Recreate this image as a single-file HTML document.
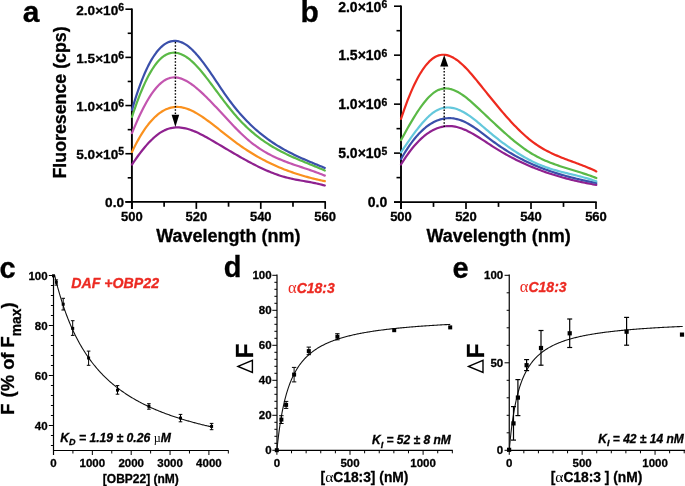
<!DOCTYPE html>
<html><head><meta charset="utf-8"><style>
html,body{margin:0;padding:0;background:#fff;}
svg{display:block;font-family:"Liberation Sans",sans-serif;will-change:transform;}
</style></head><body>
<svg width="685" height="486" viewBox="0 0 685 486">
<rect width="685" height="486" fill="#fff"/>
<line x1="131.9" y1="8.5" x2="131.9" y2="208.9" stroke="#000" stroke-width="1.9"/>
<line x1="125.4" y1="201.9" x2="131.9" y2="201.9" stroke="#000" stroke-width="1.6"/>
<line x1="125.4" y1="153.72" x2="131.9" y2="153.72" stroke="#000" stroke-width="1.6"/>
<line x1="125.4" y1="105.55" x2="131.9" y2="105.55" stroke="#000" stroke-width="1.6"/>
<line x1="125.4" y1="57.38" x2="131.9" y2="57.38" stroke="#000" stroke-width="1.6"/>
<line x1="125.4" y1="9.2" x2="131.9" y2="9.2" stroke="#000" stroke-width="1.6"/>
<line x1="127.7" y1="177.81" x2="131.9" y2="177.81" stroke="#000" stroke-width="1.6"/>
<line x1="127.7" y1="129.64" x2="131.9" y2="129.64" stroke="#000" stroke-width="1.6"/>
<line x1="127.7" y1="81.46" x2="131.9" y2="81.46" stroke="#000" stroke-width="1.6"/>
<line x1="127.7" y1="33.29" x2="131.9" y2="33.29" stroke="#000" stroke-width="1.6"/>
<line x1="125.4" y1="201.9" x2="325.9" y2="201.9" stroke="#000" stroke-width="1.9"/>
<line x1="131.9" y1="201.9" x2="131.9" y2="208.9" stroke="#000" stroke-width="1.7"/>
<line x1="196.33" y1="201.9" x2="196.33" y2="208.9" stroke="#000" stroke-width="1.7"/>
<line x1="260.77" y1="201.9" x2="260.77" y2="208.9" stroke="#000" stroke-width="1.7"/>
<line x1="325.2" y1="201.9" x2="325.2" y2="208.9" stroke="#000" stroke-width="1.7"/>
<line x1="164.12" y1="201.9" x2="164.12" y2="206.7" stroke="#000" stroke-width="1.7"/>
<line x1="228.55" y1="201.9" x2="228.55" y2="206.7" stroke="#000" stroke-width="1.7"/>
<line x1="292.98" y1="201.9" x2="292.98" y2="206.7" stroke="#000" stroke-width="1.7"/>
<text x="124" y="207.4" font-size="13.6" text-anchor="end" font-weight="bold" font-style="normal" fill="#000" stroke="#000" stroke-width="0.3" >0.0</text>
<text x="124" y="159.22" font-size="13.6" text-anchor="end" font-weight="bold" font-style="normal" fill="#000" stroke="#000" stroke-width="0.3" >5.0×10<tspan dy="-3.9" font-size="10.4">5</tspan></text>
<text x="124" y="111.05" font-size="13.6" text-anchor="end" font-weight="bold" font-style="normal" fill="#000" stroke="#000" stroke-width="0.3" >1.0×10<tspan dy="-3.9" font-size="10.4">6</tspan></text>
<text x="124" y="62.88" font-size="13.6" text-anchor="end" font-weight="bold" font-style="normal" fill="#000" stroke="#000" stroke-width="0.3" >1.5×10<tspan dy="-3.9" font-size="10.4">6</tspan></text>
<text x="124" y="14.7" font-size="13.6" text-anchor="end" font-weight="bold" font-style="normal" fill="#000" stroke="#000" stroke-width="0.3" >2.0×10<tspan dy="-3.9" font-size="10.4">6</tspan></text>
<text x="131.9" y="220.8" font-size="13" text-anchor="middle" font-weight="bold" font-style="normal" fill="#000" stroke="#000" stroke-width="0.3" >500</text>
<text x="196.33" y="220.8" font-size="13" text-anchor="middle" font-weight="bold" font-style="normal" fill="#000" stroke="#000" stroke-width="0.3" >520</text>
<text x="260.77" y="220.8" font-size="13" text-anchor="middle" font-weight="bold" font-style="normal" fill="#000" stroke="#000" stroke-width="0.3" >540</text>
<text x="325.2" y="220.8" font-size="13" text-anchor="middle" font-weight="bold" font-style="normal" fill="#000" stroke="#000" stroke-width="0.3" >560</text>
<text x="228.4" y="242" font-size="18" text-anchor="middle" font-weight="bold" font-style="normal" fill="#000" stroke="#000" stroke-width="0.3" >Wavelength (nm)</text>
<text transform="translate(65.8,102.4) rotate(-90)" x="0" y="0" font-size="17.8" text-anchor="middle" font-weight="bold" font-style="normal" fill="#000" stroke="#000" stroke-width="0.3" xml:space="preserve">Fluoresence (cps)</text>
<text x="31.2" y="22.2" font-size="30" text-anchor="middle" font-weight="bold" font-style="normal" fill="#000" stroke="#000" stroke-width="0.3" >a</text>
<path d="M132.00,164.51 L133.62,162.12 L135.24,159.78 L136.86,157.49 L138.48,155.27 L140.10,153.10 L141.72,151.00 L143.34,148.97 L144.96,147.01 L146.58,145.13 L148.20,143.33 L149.82,141.61 L151.44,139.97 L153.06,138.42 L154.68,136.97 L156.30,135.61 L157.92,134.35 L159.54,133.19 L161.16,132.14 L162.78,131.20 L164.40,130.37 L166.02,129.65 L167.64,129.04 L169.26,128.53 L170.88,128.12 L172.50,127.81 L174.12,127.60 L175.74,127.47 L177.36,127.43 L178.98,127.47 L180.61,127.59 L182.23,127.79 L183.85,128.06 L185.47,128.39 L187.09,128.80 L188.71,129.26 L190.33,129.78 L191.95,130.35 L193.57,130.97 L195.19,131.64 L196.81,132.35 L198.43,133.10 L200.05,133.89 L201.67,134.71 L203.29,135.56 L204.91,136.43 L206.53,137.32 L208.15,138.24 L209.77,139.16 L211.39,140.10 L213.01,141.04 L214.63,141.99 L216.25,142.94 L217.87,143.89 L219.49,144.85 L221.11,145.81 L222.73,146.77 L224.35,147.73 L225.97,148.68 L227.59,149.64 L229.21,150.60 L230.83,151.55 L232.45,152.50 L234.07,153.45 L235.69,154.39 L237.31,155.32 L238.93,156.25 L240.55,157.18 L242.17,158.09 L243.79,159.00 L245.41,159.90 L247.03,160.78 L248.65,161.66 L250.27,162.53 L251.89,163.38 L253.51,164.23 L255.13,165.06 L256.75,165.87 L258.37,166.67 L259.99,167.46 L261.61,168.23 L263.23,168.98 L264.85,169.71 L266.47,170.43 L268.09,171.13 L269.71,171.81 L271.33,172.46 L272.95,173.10 L274.57,173.72 L276.19,174.31 L277.82,174.88 L279.44,175.42 L281.06,175.94 L282.68,176.44 L284.30,176.91 L285.92,177.35 L287.54,177.77 L289.16,178.16 L290.78,178.54 L292.40,178.89 L294.02,179.23 L295.64,179.55 L297.26,179.86 L298.88,180.16 L300.50,180.46 L302.12,180.74 L303.74,181.03 L305.36,181.32 L306.98,181.60 L308.60,181.89 L310.22,182.19 L311.84,182.50 L313.46,182.82 L315.08,183.15 L316.70,183.49 L318.32,183.86 L319.94,184.24 L321.56,184.65 L323.18,185.08 L324.80,185.53" fill="none" stroke="#8f218f" stroke-width="2.2" stroke-linejoin="round" stroke-linecap="round"/>
<path d="M132.00,151.96 L133.62,148.60 L135.24,145.37 L136.86,142.29 L138.48,139.35 L140.10,136.55 L141.72,133.88 L143.34,131.35 L144.96,128.96 L146.58,126.69 L148.20,124.56 L149.82,122.56 L151.44,120.68 L153.06,118.94 L154.68,117.31 L156.30,115.82 L157.92,114.44 L159.54,113.18 L161.16,112.05 L162.78,111.03 L164.40,110.13 L166.02,109.34 L167.64,108.67 L169.26,108.11 L170.88,107.66 L172.50,107.32 L174.12,107.08 L175.74,106.95 L177.36,106.93 L178.98,107.01 L180.61,107.19 L182.23,107.45 L183.85,107.81 L185.47,108.25 L187.09,108.78 L188.71,109.38 L190.33,110.05 L191.95,110.79 L193.57,111.59 L195.19,112.45 L196.81,113.37 L198.43,114.34 L200.05,115.36 L201.67,116.42 L203.29,117.51 L204.91,118.64 L206.53,119.80 L208.15,120.99 L209.77,122.20 L211.39,123.43 L213.01,124.67 L214.63,125.92 L216.25,127.19 L217.87,128.46 L219.49,129.74 L221.11,131.03 L222.73,132.32 L224.35,133.60 L225.97,134.88 L227.59,136.16 L229.21,137.42 L230.83,138.68 L232.45,139.92 L234.07,141.15 L235.69,142.36 L237.31,143.55 L238.93,144.72 L240.55,145.87 L242.17,146.99 L243.79,148.10 L245.41,149.18 L247.03,150.24 L248.65,151.28 L250.27,152.30 L251.89,153.30 L253.51,154.28 L255.13,155.24 L256.75,156.18 L258.37,157.10 L259.99,158.00 L261.61,158.88 L263.23,159.75 L264.85,160.59 L266.47,161.42 L268.09,162.23 L269.71,163.02 L271.33,163.80 L272.95,164.56 L274.57,165.30 L276.19,166.02 L277.82,166.73 L279.44,167.42 L281.06,168.10 L282.68,168.76 L284.30,169.40 L285.92,170.03 L287.54,170.64 L289.16,171.24 L290.78,171.83 L292.40,172.40 L294.02,172.95 L295.64,173.50 L297.26,174.03 L298.88,174.54 L300.50,175.04 L302.12,175.53 L303.74,176.01 L305.36,176.47 L306.98,176.93 L308.60,177.37 L310.22,177.80 L311.84,178.21 L313.46,178.62 L315.08,179.01 L316.70,179.40 L318.32,179.77 L319.94,180.13 L321.56,180.49 L323.18,180.83 L324.80,181.16" fill="none" stroke="#fa911e" stroke-width="2.2" stroke-linejoin="round" stroke-linecap="round"/>
<path d="M132.00,133.14 L133.62,129.17 L135.24,125.32 L136.86,121.59 L138.48,117.99 L140.10,114.51 L141.72,111.17 L143.34,107.96 L144.96,104.90 L146.58,101.98 L148.20,99.21 L149.82,96.59 L151.44,94.14 L153.06,91.84 L154.68,89.71 L156.30,87.74 L157.92,85.94 L159.54,84.31 L161.16,82.85 L162.78,81.57 L164.40,80.45 L166.02,79.52 L167.64,78.76 L169.26,78.17 L170.88,77.75 L172.50,77.50 L174.12,77.40 L175.74,77.44 L177.36,77.63 L178.98,77.95 L180.61,78.40 L182.23,78.97 L183.85,79.65 L185.47,80.44 L187.09,81.33 L188.71,82.31 L190.33,83.37 L191.95,84.51 L193.57,85.73 L195.19,87.01 L196.81,88.35 L198.43,89.74 L200.05,91.18 L201.67,92.65 L203.29,94.17 L204.91,95.72 L206.53,97.31 L208.15,98.93 L209.77,100.57 L211.39,102.24 L213.01,103.93 L214.63,105.64 L216.25,107.36 L217.87,109.10 L219.49,110.84 L221.11,112.60 L222.73,114.35 L224.35,116.10 L225.97,117.86 L227.59,119.60 L229.21,121.34 L230.83,123.06 L232.45,124.77 L234.07,126.47 L235.69,128.14 L237.31,129.78 L238.93,131.40 L240.55,133.00 L242.17,134.55 L243.79,136.07 L245.41,137.56 L247.03,139.00 L248.65,140.39 L250.27,141.74 L251.89,143.04 L253.51,144.29 L255.13,145.49 L256.75,146.65 L258.37,147.77 L259.99,148.85 L261.61,149.89 L263.23,150.89 L264.85,151.85 L266.47,152.78 L268.09,153.67 L269.71,154.54 L271.33,155.37 L272.95,156.17 L274.57,156.95 L276.19,157.70 L277.82,158.42 L279.44,159.13 L281.06,159.81 L282.68,160.47 L284.30,161.11 L285.92,161.74 L287.54,162.35 L289.16,162.94 L290.78,163.53 L292.40,164.10 L294.02,164.67 L295.64,165.22 L297.26,165.77 L298.88,166.32 L300.50,166.86 L302.12,167.40 L303.74,167.94 L305.36,168.48 L306.98,169.03 L308.60,169.57 L310.22,170.13 L311.84,170.69 L313.46,171.26 L315.08,171.84 L316.70,172.43 L318.32,173.04 L319.94,173.66 L321.56,174.30 L323.18,174.96 L324.80,175.63" fill="none" stroke="#c355af" stroke-width="2.2" stroke-linejoin="round" stroke-linecap="round"/>
<path d="M132.00,116.95 L133.62,112.02 L135.24,107.27 L136.86,102.72 L138.48,98.36 L140.10,94.20 L141.72,90.23 L143.34,86.46 L144.96,82.89 L146.58,79.52 L148.20,76.34 L149.82,73.37 L151.44,70.60 L153.06,68.02 L154.68,65.65 L156.30,63.49 L157.92,61.52 L159.54,59.76 L161.16,58.21 L162.78,56.86 L164.40,55.71 L166.02,54.75 L167.64,53.99 L169.26,53.40 L170.88,52.99 L172.50,52.76 L174.12,52.69 L175.74,52.79 L177.36,53.03 L178.98,53.43 L180.61,53.98 L182.23,54.66 L183.85,55.48 L185.47,56.42 L187.09,57.49 L188.71,58.68 L190.33,59.97 L191.95,61.38 L193.57,62.88 L195.19,64.48 L196.81,66.17 L198.43,67.95 L200.05,69.80 L201.67,71.72 L203.29,73.71 L204.91,75.74 L206.53,77.82 L208.15,79.94 L209.77,82.08 L211.39,84.25 L213.01,86.42 L214.63,88.60 L216.25,90.78 L217.87,92.95 L219.49,95.12 L221.11,97.28 L222.73,99.43 L224.35,101.55 L225.97,103.65 L227.59,105.73 L229.21,107.78 L230.83,109.79 L232.45,111.77 L234.07,113.70 L235.69,115.59 L237.31,117.44 L238.93,119.23 L240.55,120.97 L242.17,122.66 L243.79,124.30 L245.41,125.89 L247.03,127.44 L248.65,128.95 L250.27,130.41 L251.89,131.83 L253.51,133.21 L255.13,134.55 L256.75,135.85 L258.37,137.11 L259.99,138.33 L261.61,139.52 L263.23,140.68 L264.85,141.80 L266.47,142.89 L268.09,143.95 L269.71,144.97 L271.33,145.98 L272.95,146.95 L274.57,147.90 L276.19,148.82 L277.82,149.71 L279.44,150.59 L281.06,151.44 L282.68,152.28 L284.30,153.09 L285.92,153.88 L287.54,154.66 L289.16,155.42 L290.78,156.17 L292.40,156.91 L294.02,157.63 L295.64,158.34 L297.26,159.04 L298.88,159.73 L300.50,160.41 L302.12,161.09 L303.74,161.76 L305.36,162.42 L306.98,163.09 L308.60,163.75 L310.22,164.41 L311.84,165.07 L313.46,165.73 L315.08,166.39 L316.70,167.06 L318.32,167.73 L319.94,168.41 L321.56,169.10 L323.18,169.79 L324.80,170.49" fill="none" stroke="#5ab946" stroke-width="2.2" stroke-linejoin="round" stroke-linecap="round"/>
<path d="M132.00,109.86 L133.62,104.35 L135.24,99.09 L136.86,94.09 L138.48,89.34 L140.10,84.83 L141.72,80.57 L143.34,76.55 L144.96,72.76 L146.58,69.21 L148.20,65.88 L149.82,62.78 L151.44,59.90 L153.06,57.24 L154.68,54.80 L156.30,52.56 L157.92,50.54 L159.54,48.72 L161.16,47.09 L162.78,45.67 L164.40,44.44 L166.02,43.39 L167.64,42.54 L169.26,41.86 L170.88,41.37 L172.50,41.05 L174.12,40.90 L175.74,40.92 L177.36,41.10 L178.98,41.45 L180.61,41.95 L182.23,42.61 L183.85,43.41 L185.47,44.37 L187.09,45.46 L188.71,46.70 L190.33,48.06 L191.95,49.54 L193.57,51.14 L195.19,52.84 L196.81,54.64 L198.43,56.53 L200.05,58.51 L201.67,60.57 L203.29,62.69 L204.91,64.88 L206.53,67.12 L208.15,69.41 L209.77,71.74 L211.39,74.10 L213.01,76.48 L214.63,78.89 L216.25,81.30 L217.87,83.72 L219.49,86.13 L221.11,88.53 L222.73,90.91 L224.35,93.26 L225.97,95.59 L227.59,97.86 L229.21,100.09 L230.83,102.27 L232.45,104.39 L234.07,106.46 L235.69,108.48 L237.31,110.44 L238.93,112.36 L240.55,114.22 L242.17,116.04 L243.79,117.81 L245.41,119.53 L247.03,121.21 L248.65,122.85 L250.27,124.44 L251.89,125.99 L253.51,127.49 L255.13,128.96 L256.75,130.39 L258.37,131.78 L259.99,133.13 L261.61,134.45 L263.23,135.73 L264.85,136.97 L266.47,138.18 L268.09,139.36 L269.71,140.51 L271.33,141.63 L272.95,142.72 L274.57,143.78 L276.19,144.81 L277.82,145.82 L279.44,146.80 L281.06,147.75 L282.68,148.69 L284.30,149.60 L285.92,150.48 L287.54,151.35 L289.16,152.20 L290.78,153.03 L292.40,153.84 L294.02,154.64 L295.64,155.42 L297.26,156.18 L298.88,156.93 L300.50,157.67 L302.12,158.40 L303.74,159.12 L305.36,159.82 L306.98,160.52 L308.60,161.21 L310.22,161.90 L311.84,162.57 L313.46,163.25 L315.08,163.92 L316.70,164.58 L318.32,165.25 L319.94,165.91 L321.56,166.58 L323.18,167.24 L324.80,167.91" fill="none" stroke="#3a4faa" stroke-width="2.2" stroke-linejoin="round" stroke-linecap="round"/>
<line x1="175.4" y1="42" x2="175.4" y2="116" stroke="#000" stroke-width="1.4" stroke-dasharray="1.6 1.6"/>
<path d="M171.6,114.8 L179.2,114.8 L175.4,127 Z" fill="#000"/>
<line x1="401" y1="5.5" x2="401" y2="209.1" stroke="#000" stroke-width="1.9"/>
<line x1="394" y1="202.1" x2="401" y2="202.1" stroke="#000" stroke-width="1.6"/>
<line x1="394" y1="153.12" x2="401" y2="153.12" stroke="#000" stroke-width="1.6"/>
<line x1="394" y1="104.15" x2="401" y2="104.15" stroke="#000" stroke-width="1.6"/>
<line x1="394" y1="55.17" x2="401" y2="55.17" stroke="#000" stroke-width="1.6"/>
<line x1="394" y1="6.2" x2="401" y2="6.2" stroke="#000" stroke-width="1.6"/>
<line x1="396.5" y1="177.61" x2="401" y2="177.61" stroke="#000" stroke-width="1.6"/>
<line x1="396.5" y1="128.64" x2="401" y2="128.64" stroke="#000" stroke-width="1.6"/>
<line x1="396.5" y1="79.66" x2="401" y2="79.66" stroke="#000" stroke-width="1.6"/>
<line x1="396.5" y1="30.69" x2="401" y2="30.69" stroke="#000" stroke-width="1.6"/>
<line x1="394" y1="202.1" x2="596.7" y2="202.1" stroke="#000" stroke-width="1.9"/>
<line x1="401" y1="202.1" x2="401" y2="209.1" stroke="#000" stroke-width="1.7"/>
<line x1="466" y1="202.1" x2="466" y2="209.1" stroke="#000" stroke-width="1.7"/>
<line x1="531" y1="202.1" x2="531" y2="209.1" stroke="#000" stroke-width="1.7"/>
<line x1="596" y1="202.1" x2="596" y2="209.1" stroke="#000" stroke-width="1.7"/>
<line x1="433.5" y1="202.1" x2="433.5" y2="206.9" stroke="#000" stroke-width="1.7"/>
<line x1="498.5" y1="202.1" x2="498.5" y2="206.9" stroke="#000" stroke-width="1.7"/>
<line x1="563.5" y1="202.1" x2="563.5" y2="206.9" stroke="#000" stroke-width="1.7"/>
<text x="387.2" y="207.4" font-size="14" text-anchor="end" font-weight="bold" font-style="normal" fill="#000" stroke="#000" stroke-width="0.3" >0.0</text>
<text x="387.2" y="158.43" font-size="14" text-anchor="end" font-weight="bold" font-style="normal" fill="#000" stroke="#000" stroke-width="0.3" >5.0×10<tspan dy="-3.9" font-size="10.4">5</tspan></text>
<text x="387.2" y="109.45" font-size="14" text-anchor="end" font-weight="bold" font-style="normal" fill="#000" stroke="#000" stroke-width="0.3" >1.0×10<tspan dy="-3.9" font-size="10.4">6</tspan></text>
<text x="387.2" y="60.47" font-size="14" text-anchor="end" font-weight="bold" font-style="normal" fill="#000" stroke="#000" stroke-width="0.3" >1.5×10<tspan dy="-3.9" font-size="10.4">6</tspan></text>
<text x="387.2" y="11.5" font-size="14" text-anchor="end" font-weight="bold" font-style="normal" fill="#000" stroke="#000" stroke-width="0.3" >2.0×10<tspan dy="-3.9" font-size="10.4">6</tspan></text>
<text x="401" y="221.4" font-size="13" text-anchor="middle" font-weight="bold" font-style="normal" fill="#000" stroke="#000" stroke-width="0.3" >500</text>
<text x="466" y="221.4" font-size="13" text-anchor="middle" font-weight="bold" font-style="normal" fill="#000" stroke="#000" stroke-width="0.3" >520</text>
<text x="531" y="221.4" font-size="13" text-anchor="middle" font-weight="bold" font-style="normal" fill="#000" stroke="#000" stroke-width="0.3" >540</text>
<text x="596" y="221.4" font-size="13" text-anchor="middle" font-weight="bold" font-style="normal" fill="#000" stroke="#000" stroke-width="0.3" >560</text>
<text x="498.6" y="242" font-size="18" text-anchor="middle" font-weight="bold" font-style="normal" fill="#000" stroke="#000" stroke-width="0.3" >Wavelength (nm)</text>
<text x="309.6" y="22.2" font-size="30" text-anchor="middle" font-weight="bold" font-style="normal" fill="#000" stroke="#000" stroke-width="0.3" >b</text>
<path d="M401.00,164.52 L402.64,161.87 L404.28,159.32 L405.92,156.87 L407.56,154.52 L409.21,152.26 L410.85,150.10 L412.49,148.03 L414.13,146.06 L415.77,144.19 L417.41,142.41 L419.05,140.72 L420.69,139.13 L422.34,137.63 L423.98,136.23 L425.62,134.92 L427.26,133.70 L428.90,132.57 L430.54,131.53 L432.18,130.59 L433.82,129.73 L435.46,128.97 L437.11,128.30 L438.75,127.71 L440.39,127.21 L442.03,126.81 L443.67,126.49 L445.31,126.26 L446.95,126.11 L448.59,126.06 L450.24,126.08 L451.88,126.20 L453.52,126.40 L455.16,126.68 L456.80,127.04 L458.44,127.47 L460.08,127.98 L461.72,128.55 L463.36,129.18 L465.01,129.87 L466.65,130.61 L468.29,131.40 L469.93,132.24 L471.57,133.12 L473.21,134.04 L474.85,134.99 L476.49,135.97 L478.14,136.98 L479.78,138.01 L481.42,139.06 L483.06,140.12 L484.70,141.19 L486.34,142.27 L487.98,143.35 L489.62,144.43 L491.26,145.50 L492.91,146.56 L494.55,147.61 L496.19,148.64 L497.83,149.66 L499.47,150.65 L501.11,151.63 L502.75,152.59 L504.39,153.54 L506.04,154.46 L507.68,155.37 L509.32,156.27 L510.96,157.14 L512.60,158.00 L514.24,158.85 L515.88,159.68 L517.52,160.49 L519.16,161.29 L520.81,162.07 L522.45,162.84 L524.09,163.59 L525.73,164.33 L527.37,165.05 L529.01,165.76 L530.65,166.46 L532.29,167.14 L533.94,167.81 L535.58,168.46 L537.22,169.10 L538.86,169.73 L540.50,170.34 L542.14,170.94 L543.78,171.53 L545.42,172.11 L547.06,172.67 L548.71,173.23 L550.35,173.77 L551.99,174.30 L553.63,174.81 L555.27,175.32 L556.91,175.81 L558.55,176.30 L560.19,176.77 L561.84,177.24 L563.48,177.69 L565.12,178.13 L566.76,178.57 L568.40,178.99 L570.04,179.40 L571.68,179.81 L573.32,180.20 L574.96,180.59 L576.61,180.97 L578.25,181.34 L579.89,181.70 L581.53,182.05 L583.17,182.39 L584.81,182.73 L586.45,183.06 L588.09,183.38 L589.74,183.70 L591.38,184.01 L593.02,184.31 L594.66,184.60 L596.30,184.89" fill="none" stroke="#8f218f" stroke-width="2.2" stroke-linejoin="round" stroke-linecap="round"/>
<path d="M401.00,159.04 L402.64,156.18 L404.28,153.44 L405.92,150.81 L407.56,148.28 L409.21,145.87 L410.85,143.56 L412.49,141.36 L414.13,139.26 L415.77,137.27 L417.41,135.38 L419.05,133.60 L420.69,131.92 L422.34,130.34 L423.98,128.86 L425.62,127.48 L427.26,126.20 L428.90,125.01 L430.54,123.93 L432.18,122.94 L433.82,122.04 L435.46,121.25 L437.11,120.54 L438.75,119.93 L440.39,119.41 L442.03,118.98 L443.67,118.64 L445.31,118.39 L446.95,118.23 L448.59,118.16 L450.24,118.17 L451.88,118.27 L453.52,118.46 L455.16,118.73 L456.80,119.08 L458.44,119.52 L460.08,120.04 L461.72,120.63 L463.36,121.31 L465.01,122.07 L466.65,122.89 L468.29,123.78 L469.93,124.72 L471.57,125.73 L473.21,126.78 L474.85,127.87 L476.49,129.00 L478.14,130.16 L479.78,131.36 L481.42,132.57 L483.06,133.81 L484.70,135.05 L486.34,136.30 L487.98,137.56 L489.62,138.81 L491.26,140.05 L492.91,141.28 L494.55,142.49 L496.19,143.68 L497.83,144.84 L499.47,145.98 L501.11,147.09 L502.75,148.18 L504.39,149.25 L506.04,150.29 L507.68,151.32 L509.32,152.32 L510.96,153.30 L512.60,154.26 L514.24,155.19 L515.88,156.11 L517.52,157.01 L519.16,157.88 L520.81,158.74 L522.45,159.58 L524.09,160.40 L525.73,161.20 L527.37,161.98 L529.01,162.74 L530.65,163.49 L532.29,164.22 L533.94,164.93 L535.58,165.63 L537.22,166.31 L538.86,166.98 L540.50,167.63 L542.14,168.26 L543.78,168.88 L545.42,169.49 L547.06,170.08 L548.71,170.66 L550.35,171.22 L551.99,171.77 L553.63,172.31 L555.27,172.84 L556.91,173.35 L558.55,173.86 L560.19,174.35 L561.84,174.83 L563.48,175.30 L565.12,175.76 L566.76,176.21 L568.40,176.65 L570.04,177.08 L571.68,177.51 L573.32,177.92 L574.96,178.33 L576.61,178.72 L578.25,179.12 L579.89,179.50 L581.53,179.88 L583.17,180.25 L584.81,180.61 L586.45,180.97 L588.09,181.32 L589.74,181.67 L591.38,182.02 L593.02,182.36 L594.66,182.69 L596.30,183.02" fill="none" stroke="#3a4faa" stroke-width="2.2" stroke-linejoin="round" stroke-linecap="round"/>
<path d="M401.00,152.31 L402.64,149.89 L404.28,147.48 L405.92,145.07 L407.56,142.68 L409.21,140.31 L410.85,137.98 L412.49,135.67 L414.13,133.42 L415.77,131.21 L417.41,129.06 L419.05,126.98 L420.69,124.96 L422.34,123.02 L423.98,121.17 L425.62,119.41 L427.26,117.75 L428.90,116.19 L430.54,114.74 L432.18,113.41 L433.82,112.21 L435.46,111.14 L437.11,110.21 L438.75,109.42 L440.39,108.77 L442.03,108.26 L443.67,107.88 L445.31,107.63 L446.95,107.50 L448.59,107.49 L450.24,107.60 L451.88,107.81 L453.52,108.13 L455.16,108.56 L456.80,109.07 L458.44,109.69 L460.08,110.38 L461.72,111.17 L463.36,112.03 L465.01,112.97 L466.65,113.98 L468.29,115.05 L469.93,116.19 L471.57,117.38 L473.21,118.62 L474.85,119.90 L476.49,121.22 L478.14,122.57 L479.78,123.94 L481.42,125.33 L483.06,126.74 L484.70,128.14 L486.34,129.55 L487.98,130.94 L489.62,132.32 L491.26,133.69 L492.91,135.04 L494.55,136.37 L496.19,137.69 L497.83,138.98 L499.47,140.26 L501.11,141.52 L502.75,142.76 L504.39,143.98 L506.04,145.18 L507.68,146.36 L509.32,147.52 L510.96,148.66 L512.60,149.78 L514.24,150.88 L515.88,151.95 L517.52,153.00 L519.16,154.03 L520.81,155.03 L522.45,156.01 L524.09,156.97 L525.73,157.90 L527.37,158.80 L529.01,159.68 L530.65,160.54 L532.29,161.37 L533.94,162.17 L535.58,162.94 L537.22,163.69 L538.86,164.41 L540.50,165.10 L542.14,165.77 L543.78,166.40 L545.42,167.01 L547.06,167.59 L548.71,168.15 L550.35,168.68 L551.99,169.20 L553.63,169.69 L555.27,170.17 L556.91,170.63 L558.55,171.08 L560.19,171.51 L561.84,171.94 L563.48,172.36 L565.12,172.76 L566.76,173.17 L568.40,173.56 L570.04,173.96 L571.68,174.35 L573.32,174.75 L574.96,175.15 L576.61,175.55 L578.25,175.96 L579.89,176.38 L581.53,176.80 L583.17,177.24 L584.81,177.69 L586.45,178.15 L588.09,178.63 L589.74,179.13 L591.38,179.64 L593.02,180.18 L594.66,180.74 L596.30,181.32" fill="none" stroke="#64c8dc" stroke-width="2.2" stroke-linejoin="round" stroke-linecap="round"/>
<path d="M401.00,140.13 L402.64,137.13 L404.28,134.16 L405.92,131.20 L407.56,128.29 L409.21,125.41 L410.85,122.59 L412.49,119.82 L414.13,117.12 L415.77,114.49 L417.41,111.94 L419.05,109.49 L420.69,107.13 L422.34,104.87 L423.98,102.73 L425.62,100.71 L427.26,98.82 L428.90,97.07 L430.54,95.46 L432.18,94.00 L433.82,92.70 L435.46,91.57 L437.11,90.62 L438.75,89.85 L440.39,89.25 L442.03,88.83 L443.67,88.56 L445.31,88.46 L446.95,88.49 L448.59,88.68 L450.24,88.99 L451.88,89.43 L453.52,89.99 L455.16,90.67 L456.80,91.45 L458.44,92.33 L460.08,93.31 L461.72,94.37 L463.36,95.50 L465.01,96.71 L466.65,97.99 L468.29,99.32 L469.93,100.70 L471.57,102.12 L473.21,103.59 L474.85,105.08 L476.49,106.59 L478.14,108.12 L479.78,109.66 L481.42,111.20 L483.06,112.75 L484.70,114.29 L486.34,115.84 L487.98,117.39 L489.62,118.94 L491.26,120.48 L492.91,122.02 L494.55,123.55 L496.19,125.08 L497.83,126.60 L499.47,128.11 L501.11,129.60 L502.75,131.09 L504.39,132.56 L506.04,134.02 L507.68,135.46 L509.32,136.89 L510.96,138.29 L512.60,139.67 L514.24,141.03 L515.88,142.36 L517.52,143.67 L519.16,144.94 L520.81,146.19 L522.45,147.41 L524.09,148.59 L525.73,149.74 L527.37,150.85 L529.01,151.92 L530.65,152.95 L532.29,153.95 L533.94,154.90 L535.58,155.82 L537.22,156.70 L538.86,157.54 L540.50,158.36 L542.14,159.14 L543.78,159.90 L545.42,160.63 L547.06,161.33 L548.71,162.00 L550.35,162.66 L551.99,163.29 L553.63,163.90 L555.27,164.49 L556.91,165.07 L558.55,165.63 L560.19,166.18 L561.84,166.72 L563.48,167.25 L565.12,167.76 L566.76,168.27 L568.40,168.78 L570.04,169.28 L571.68,169.78 L573.32,170.28 L574.96,170.77 L576.61,171.27 L578.25,171.78 L579.89,172.29 L581.53,172.80 L583.17,173.33 L584.81,173.86 L586.45,174.41 L588.09,174.97 L589.74,175.54 L591.38,176.14 L593.02,176.74 L594.66,177.37 L596.30,178.02" fill="none" stroke="#5ab946" stroke-width="2.2" stroke-linejoin="round" stroke-linecap="round"/>
<path d="M401.00,118.96 L402.64,114.05 L404.28,109.32 L405.92,104.79 L407.56,100.45 L409.21,96.31 L410.85,92.36 L412.49,88.61 L414.13,85.06 L415.77,81.69 L417.41,78.53 L419.05,75.56 L420.69,72.79 L422.34,70.22 L423.98,67.84 L425.62,65.66 L427.26,63.68 L428.90,61.90 L430.54,60.31 L432.18,58.92 L433.82,57.74 L435.46,56.75 L437.11,55.96 L438.75,55.37 L440.39,54.97 L442.03,54.76 L443.67,54.73 L445.31,54.86 L446.95,55.16 L448.59,55.62 L450.24,56.22 L451.88,56.96 L453.52,57.84 L455.16,58.85 L456.80,59.97 L458.44,61.21 L460.08,62.55 L461.72,63.99 L463.36,65.52 L465.01,67.14 L466.65,68.83 L468.29,70.59 L469.93,72.41 L471.57,74.29 L473.21,76.21 L474.85,78.17 L476.49,80.17 L478.14,82.19 L479.78,84.23 L481.42,86.27 L483.06,88.33 L484.70,90.38 L486.34,92.43 L487.98,94.47 L489.62,96.51 L491.26,98.54 L492.91,100.56 L494.55,102.57 L496.19,104.57 L497.83,106.55 L499.47,108.51 L501.11,110.46 L502.75,112.38 L504.39,114.28 L506.04,116.16 L507.68,118.02 L509.32,119.85 L510.96,121.65 L512.60,123.41 L514.24,125.15 L515.88,126.85 L517.52,128.52 L519.16,130.15 L520.81,131.74 L522.45,133.29 L524.09,134.79 L525.73,136.26 L527.37,137.67 L529.01,139.04 L530.65,140.36 L532.29,141.63 L533.94,142.84 L535.58,144.01 L537.22,145.13 L538.86,146.21 L540.50,147.24 L542.14,148.23 L543.78,149.18 L545.42,150.09 L547.06,150.97 L548.71,151.82 L550.35,152.63 L551.99,153.42 L553.63,154.18 L555.27,154.92 L556.91,155.63 L558.55,156.32 L560.19,157.00 L561.84,157.65 L563.48,158.30 L565.12,158.93 L566.76,159.55 L568.40,160.17 L570.04,160.77 L571.68,161.38 L573.32,161.98 L574.96,162.59 L576.61,163.19 L578.25,163.80 L579.89,164.42 L581.53,165.04 L583.17,165.68 L584.81,166.33 L586.45,166.99 L588.09,167.68 L589.74,168.38 L591.38,169.10 L593.02,169.84 L594.66,170.61 L596.30,171.41" fill="none" stroke="#ee2a1e" stroke-width="2.2" stroke-linejoin="round" stroke-linecap="round"/>
<line x1="444.2" y1="127" x2="444.2" y2="66" stroke="#000" stroke-width="1.4" stroke-dasharray="1.6 1.6"/>
<path d="M440.2,66.6 L448.3,66.6 L444.2,55 Z" fill="#000"/>
<line x1="53.5" y1="274.8" x2="53.5" y2="455" stroke="#000" stroke-width="1.2"/>
<line x1="50.9" y1="445.5" x2="53.5" y2="445.5" stroke="#000" stroke-width="1.0"/>
<line x1="50.9" y1="435.5" x2="53.5" y2="435.5" stroke="#000" stroke-width="1.0"/>
<line x1="48.8" y1="425.5" x2="53.5" y2="425.5" stroke="#000" stroke-width="1.0"/>
<line x1="50.9" y1="415.5" x2="53.5" y2="415.5" stroke="#000" stroke-width="1.0"/>
<line x1="50.9" y1="405.5" x2="53.5" y2="405.5" stroke="#000" stroke-width="1.0"/>
<line x1="50.9" y1="395.5" x2="53.5" y2="395.5" stroke="#000" stroke-width="1.0"/>
<line x1="50.9" y1="385.5" x2="53.5" y2="385.5" stroke="#000" stroke-width="1.0"/>
<line x1="48.8" y1="375.5" x2="53.5" y2="375.5" stroke="#000" stroke-width="1.0"/>
<line x1="50.9" y1="365.5" x2="53.5" y2="365.5" stroke="#000" stroke-width="1.0"/>
<line x1="50.9" y1="355.5" x2="53.5" y2="355.5" stroke="#000" stroke-width="1.0"/>
<line x1="50.9" y1="345.5" x2="53.5" y2="345.5" stroke="#000" stroke-width="1.0"/>
<line x1="50.9" y1="335.5" x2="53.5" y2="335.5" stroke="#000" stroke-width="1.0"/>
<line x1="48.8" y1="325.5" x2="53.5" y2="325.5" stroke="#000" stroke-width="1.0"/>
<line x1="50.9" y1="315.5" x2="53.5" y2="315.5" stroke="#000" stroke-width="1.0"/>
<line x1="50.9" y1="305.5" x2="53.5" y2="305.5" stroke="#000" stroke-width="1.0"/>
<line x1="50.9" y1="295.5" x2="53.5" y2="295.5" stroke="#000" stroke-width="1.0"/>
<line x1="50.9" y1="285.5" x2="53.5" y2="285.5" stroke="#000" stroke-width="1.0"/>
<line x1="48.8" y1="275.5" x2="53.5" y2="275.5" stroke="#000" stroke-width="1.0"/>
<line x1="53.5" y1="450.5" x2="228.6" y2="450.5" stroke="#000" stroke-width="1.2"/>
<line x1="53.5" y1="450.5" x2="53.5" y2="455" stroke="#000" stroke-width="1.0"/>
<line x1="72.92" y1="450.5" x2="72.92" y2="453.5" stroke="#000" stroke-width="1.0"/>
<line x1="92.35" y1="450.5" x2="92.35" y2="455" stroke="#000" stroke-width="1.0"/>
<line x1="111.78" y1="450.5" x2="111.78" y2="453.5" stroke="#000" stroke-width="1.0"/>
<line x1="131.2" y1="450.5" x2="131.2" y2="455" stroke="#000" stroke-width="1.0"/>
<line x1="150.62" y1="450.5" x2="150.62" y2="453.5" stroke="#000" stroke-width="1.0"/>
<line x1="170.05" y1="450.5" x2="170.05" y2="455" stroke="#000" stroke-width="1.0"/>
<line x1="189.48" y1="450.5" x2="189.48" y2="453.5" stroke="#000" stroke-width="1.0"/>
<line x1="208.9" y1="450.5" x2="208.9" y2="455" stroke="#000" stroke-width="1.0"/>
<line x1="228.33" y1="450.5" x2="228.33" y2="453.5" stroke="#000" stroke-width="1.0"/>
<text x="47.6" y="279.6" font-size="11.5" text-anchor="end" font-weight="bold" font-style="normal" fill="#000" stroke="#000" stroke-width="0.3" >100</text>
<text x="47.6" y="329.6" font-size="11.5" text-anchor="end" font-weight="bold" font-style="normal" fill="#000" stroke="#000" stroke-width="0.3" >80</text>
<text x="47.6" y="379.6" font-size="11.5" text-anchor="end" font-weight="bold" font-style="normal" fill="#000" stroke="#000" stroke-width="0.3" >60</text>
<text x="47.6" y="429.6" font-size="11.5" text-anchor="end" font-weight="bold" font-style="normal" fill="#000" stroke="#000" stroke-width="0.3" >40</text>
<text x="53.5" y="466.6" font-size="11.5" text-anchor="middle" font-weight="bold" font-style="normal" fill="#000" stroke="#000" stroke-width="0.3" >0</text>
<text x="92.35" y="466.6" font-size="11.5" text-anchor="middle" font-weight="bold" font-style="normal" fill="#000" stroke="#000" stroke-width="0.3" >1000</text>
<text x="131.2" y="466.6" font-size="11.5" text-anchor="middle" font-weight="bold" font-style="normal" fill="#000" stroke="#000" stroke-width="0.3" >2000</text>
<text x="170.05" y="466.6" font-size="11.5" text-anchor="middle" font-weight="bold" font-style="normal" fill="#000" stroke="#000" stroke-width="0.3" >3000</text>
<text x="208.9" y="466.6" font-size="11.5" text-anchor="middle" font-weight="bold" font-style="normal" fill="#000" stroke="#000" stroke-width="0.3" >4000</text>
<text x="140.8" y="482.6" font-size="12" text-anchor="middle" font-weight="bold" font-style="normal" fill="#000" stroke="#000" stroke-width="0.3" >[OBP22] (nM)</text>
<text transform="translate(14.4,414.8) rotate(-90)" x="0" y="0" font-size="18.4" text-anchor="start" font-weight="bold" font-style="normal" fill="#000" stroke="#000" stroke-width="0.3" xml:space="preserve">F <tspan dx="1">(% of F</tspan><tspan dy="6.2" font-size="13.8">max</tspan><tspan dy="-6.2">)</tspan></text>
<text x="7.5" y="277.7" font-size="29" text-anchor="middle" font-weight="bold" font-style="normal" fill="#000" stroke="#000" stroke-width="0.3" >c</text>
<text x="71.2" y="288.2" font-size="14.2" text-anchor="start" font-weight="bold" font-style="italic" fill="#ec2a22" stroke="#ec2a22" stroke-width="0.3" >DAF +OBP22</text>
<text x="60.2" y="441.6" font-size="12.2" text-anchor="start" font-weight="bold" font-style="italic" fill="#000" stroke="#000" stroke-width="0.3" >K<tspan dy="3.5" font-size="9">D</tspan><tspan dy="-3.5"> = 1.19 ± 0.26 </tspan><tspan stroke-width="0" font-weight="normal" font-style="normal" font-family="Liberation Serif">µ</tspan>M</text>
<path d="M54.60,275.20 L55.39,278.44 L56.18,281.58 L56.97,284.61 L57.76,287.56 L58.54,290.41 L59.33,293.17 L60.12,295.85 L60.91,298.45 L61.70,300.98 L62.49,303.43 L63.28,305.82 L64.07,308.14 L64.86,310.39 L65.65,312.59 L66.43,314.72 L67.22,316.80 L68.01,318.83 L68.80,320.80 L69.59,322.72 L70.38,324.60 L71.17,326.43 L71.96,328.21 L72.75,329.95 L73.53,331.65 L74.32,333.31 L75.11,334.93 L75.90,336.51 L76.69,338.06 L77.48,339.57 L78.27,341.05 L79.06,342.50 L79.85,343.92 L80.64,345.30 L81.42,346.65 L82.21,347.98 L83.00,349.28 L83.79,350.55 L84.58,351.80 L85.37,353.02 L86.16,354.21 L86.95,355.39 L87.74,356.54 L88.52,357.66 L89.31,358.77 L90.10,359.85 L90.89,360.92 L91.68,361.96 L92.47,362.99 L93.26,363.99 L94.05,364.98 L94.84,365.95 L95.63,366.90 L96.41,367.84 L97.20,368.76 L97.99,369.66 L98.78,370.55 L99.57,371.42 L100.36,372.28 L101.15,373.12 L101.94,373.95 L102.73,374.77 L103.51,375.57 L104.30,376.36 L105.09,377.13 L105.88,377.90 L106.67,378.65 L107.46,379.39 L108.25,380.12 L109.04,380.83 L109.83,381.54 L110.62,382.23 L111.40,382.92 L112.19,383.59 L112.98,384.26 L113.77,384.91 L114.56,385.56 L115.35,386.19 L116.14,386.82 L116.93,387.43 L117.72,388.04 L118.50,388.64 L119.29,389.23 L120.08,389.82 L120.87,390.39 L121.66,390.96 L122.45,391.52 L123.24,392.07 L124.03,392.61 L124.82,393.15 L125.61,393.68 L126.39,394.20 L127.18,394.72 L127.97,395.23 L128.76,395.73 L129.55,396.22 L130.34,396.71 L131.13,397.20 L131.92,397.67 L132.71,398.15 L133.49,398.61 L134.28,399.07 L135.07,399.52 L135.86,399.97 L136.65,400.41 L137.44,400.85 L138.23,401.28 L139.02,401.71 L139.81,402.13 L140.59,402.55 L141.38,402.96 L142.17,403.37 L142.96,403.77 L143.75,404.17 L144.54,404.56 L145.33,404.95 L146.12,405.33 L146.91,405.71 L147.70,406.09 L148.48,406.46 L149.27,406.83 L150.06,407.19 L150.85,407.55 L151.64,407.91 L152.43,408.26 L153.22,408.60 L154.01,408.95 L154.80,409.29 L155.58,409.62 L156.37,409.96 L157.16,410.29 L157.95,410.61 L158.74,410.94 L159.53,411.26 L160.32,411.57 L161.11,411.88 L161.90,412.19 L162.69,412.50 L163.47,412.80 L164.26,413.10 L165.05,413.40 L165.84,413.70 L166.63,413.99 L167.42,414.28 L168.21,414.56 L169.00,414.84 L169.79,415.12 L170.57,415.40 L171.36,415.68 L172.15,415.95 L172.94,416.22 L173.73,416.48 L174.52,416.75 L175.31,417.01 L176.10,417.27 L176.89,417.53 L177.68,417.78 L178.46,418.04 L179.25,418.29 L180.04,418.53 L180.83,418.78 L181.62,419.02 L182.41,419.26 L183.20,419.50 L183.99,419.74 L184.78,419.97 L185.56,420.21 L186.35,420.44 L187.14,420.67 L187.93,420.89 L188.72,421.12 L189.51,421.34 L190.30,421.56 L191.09,421.78 L191.88,422.00 L192.67,422.21 L193.45,422.42 L194.24,422.64 L195.03,422.85 L195.82,423.05 L196.61,423.26 L197.40,423.46 L198.19,423.67 L198.98,423.87 L199.77,424.07 L200.55,424.27 L201.34,424.46 L202.13,424.66 L202.92,424.85 L203.71,425.04 L204.50,425.23 L205.29,425.42 L206.08,425.61 L206.87,425.79 L207.66,425.98 L208.44,426.16 L209.23,426.34 L210.02,426.52 L210.81,426.70 L211.60,426.87" fill="none" stroke="#111" stroke-width="1.1"/>
<rect x="52" y="274.3" width="3" height="3" fill="#000"/>
<line x1="56.3" y1="279.9" x2="56.3" y2="285.1" stroke="#000" stroke-width="1.0"/>
<line x1="54.5" y1="279.9" x2="58.1" y2="279.9" stroke="#000" stroke-width="1.0"/>
<line x1="54.5" y1="285.1" x2="58.1" y2="285.1" stroke="#000" stroke-width="1.0"/>
<rect x="54.8" y="280.8" width="3" height="3" fill="#000"/>
<line x1="63.2" y1="298.3" x2="63.2" y2="310" stroke="#000" stroke-width="1.0"/>
<line x1="61.4" y1="298.3" x2="65" y2="298.3" stroke="#000" stroke-width="1.0"/>
<line x1="61.4" y1="310" x2="65" y2="310" stroke="#000" stroke-width="1.0"/>
<rect x="61.7" y="302.7" width="3" height="3" fill="#000"/>
<line x1="72.7" y1="320.7" x2="72.7" y2="335.4" stroke="#000" stroke-width="1.0"/>
<line x1="70.9" y1="320.7" x2="74.5" y2="320.7" stroke="#000" stroke-width="1.0"/>
<line x1="70.9" y1="335.4" x2="74.5" y2="335.4" stroke="#000" stroke-width="1.0"/>
<rect x="71.2" y="326.9" width="3" height="3" fill="#000"/>
<line x1="88.6" y1="351.1" x2="88.6" y2="365.3" stroke="#000" stroke-width="1.0"/>
<line x1="86.8" y1="351.1" x2="90.4" y2="351.1" stroke="#000" stroke-width="1.0"/>
<line x1="86.8" y1="365.3" x2="90.4" y2="365.3" stroke="#000" stroke-width="1.0"/>
<rect x="87.1" y="356.5" width="3" height="3" fill="#000"/>
<line x1="117.5" y1="385.6" x2="117.5" y2="394.2" stroke="#000" stroke-width="1.0"/>
<line x1="115.7" y1="385.6" x2="119.3" y2="385.6" stroke="#000" stroke-width="1.0"/>
<line x1="115.7" y1="394.2" x2="119.3" y2="394.2" stroke="#000" stroke-width="1.0"/>
<rect x="116" y="388.6" width="3" height="3" fill="#000"/>
<line x1="148.9" y1="403.7" x2="148.9" y2="409.2" stroke="#000" stroke-width="1.0"/>
<line x1="147.1" y1="403.7" x2="150.7" y2="403.7" stroke="#000" stroke-width="1.0"/>
<line x1="147.1" y1="409.2" x2="150.7" y2="409.2" stroke="#000" stroke-width="1.0"/>
<rect x="147.4" y="404.8" width="3" height="3" fill="#000"/>
<line x1="180.5" y1="414.4" x2="180.5" y2="421.8" stroke="#000" stroke-width="1.0"/>
<line x1="178.7" y1="414.4" x2="182.3" y2="414.4" stroke="#000" stroke-width="1.0"/>
<line x1="178.7" y1="421.8" x2="182.3" y2="421.8" stroke="#000" stroke-width="1.0"/>
<rect x="179" y="416.6" width="3" height="3" fill="#000"/>
<line x1="211.6" y1="423.4" x2="211.6" y2="429.7" stroke="#000" stroke-width="1.0"/>
<line x1="209.8" y1="423.4" x2="213.4" y2="423.4" stroke="#000" stroke-width="1.0"/>
<line x1="209.8" y1="429.7" x2="213.4" y2="429.7" stroke="#000" stroke-width="1.0"/>
<rect x="210.1" y="424.9" width="3" height="3" fill="#000"/>
<line x1="277" y1="274.6" x2="277" y2="450.9" stroke="#000" stroke-width="1.2"/>
<line x1="272.3" y1="450.3" x2="277" y2="450.3" stroke="#000" stroke-width="1.0"/>
<line x1="274.4" y1="443.3" x2="277" y2="443.3" stroke="#000" stroke-width="1.0"/>
<line x1="274.4" y1="436.3" x2="277" y2="436.3" stroke="#000" stroke-width="1.0"/>
<line x1="274.4" y1="429.3" x2="277" y2="429.3" stroke="#000" stroke-width="1.0"/>
<line x1="274.4" y1="422.3" x2="277" y2="422.3" stroke="#000" stroke-width="1.0"/>
<line x1="272.3" y1="415.3" x2="277" y2="415.3" stroke="#000" stroke-width="1.0"/>
<line x1="274.4" y1="408.3" x2="277" y2="408.3" stroke="#000" stroke-width="1.0"/>
<line x1="274.4" y1="401.3" x2="277" y2="401.3" stroke="#000" stroke-width="1.0"/>
<line x1="274.4" y1="394.3" x2="277" y2="394.3" stroke="#000" stroke-width="1.0"/>
<line x1="274.4" y1="387.3" x2="277" y2="387.3" stroke="#000" stroke-width="1.0"/>
<line x1="272.3" y1="380.3" x2="277" y2="380.3" stroke="#000" stroke-width="1.0"/>
<line x1="274.4" y1="373.3" x2="277" y2="373.3" stroke="#000" stroke-width="1.0"/>
<line x1="274.4" y1="366.3" x2="277" y2="366.3" stroke="#000" stroke-width="1.0"/>
<line x1="274.4" y1="359.3" x2="277" y2="359.3" stroke="#000" stroke-width="1.0"/>
<line x1="274.4" y1="352.3" x2="277" y2="352.3" stroke="#000" stroke-width="1.0"/>
<line x1="272.3" y1="345.3" x2="277" y2="345.3" stroke="#000" stroke-width="1.0"/>
<line x1="274.4" y1="338.3" x2="277" y2="338.3" stroke="#000" stroke-width="1.0"/>
<line x1="274.4" y1="331.3" x2="277" y2="331.3" stroke="#000" stroke-width="1.0"/>
<line x1="274.4" y1="324.3" x2="277" y2="324.3" stroke="#000" stroke-width="1.0"/>
<line x1="274.4" y1="317.3" x2="277" y2="317.3" stroke="#000" stroke-width="1.0"/>
<line x1="272.3" y1="310.3" x2="277" y2="310.3" stroke="#000" stroke-width="1.0"/>
<line x1="274.4" y1="303.3" x2="277" y2="303.3" stroke="#000" stroke-width="1.0"/>
<line x1="274.4" y1="296.3" x2="277" y2="296.3" stroke="#000" stroke-width="1.0"/>
<line x1="274.4" y1="289.3" x2="277" y2="289.3" stroke="#000" stroke-width="1.0"/>
<line x1="274.4" y1="282.3" x2="277" y2="282.3" stroke="#000" stroke-width="1.0"/>
<line x1="272.3" y1="275.3" x2="277" y2="275.3" stroke="#000" stroke-width="1.0"/>
<line x1="277" y1="450.3" x2="452.8" y2="450.3" stroke="#000" stroke-width="1.2"/>
<line x1="276.9" y1="450.3" x2="276.9" y2="454.8" stroke="#000" stroke-width="1.0"/>
<line x1="291.52" y1="450.3" x2="291.52" y2="453.3" stroke="#000" stroke-width="1.0"/>
<line x1="306.14" y1="450.3" x2="306.14" y2="453.3" stroke="#000" stroke-width="1.0"/>
<line x1="320.76" y1="450.3" x2="320.76" y2="453.3" stroke="#000" stroke-width="1.0"/>
<line x1="335.38" y1="450.3" x2="335.38" y2="453.3" stroke="#000" stroke-width="1.0"/>
<line x1="350" y1="450.3" x2="350" y2="454.8" stroke="#000" stroke-width="1.0"/>
<line x1="364.62" y1="450.3" x2="364.62" y2="453.3" stroke="#000" stroke-width="1.0"/>
<line x1="379.24" y1="450.3" x2="379.24" y2="453.3" stroke="#000" stroke-width="1.0"/>
<line x1="393.86" y1="450.3" x2="393.86" y2="453.3" stroke="#000" stroke-width="1.0"/>
<line x1="408.48" y1="450.3" x2="408.48" y2="453.3" stroke="#000" stroke-width="1.0"/>
<line x1="423.1" y1="450.3" x2="423.1" y2="454.8" stroke="#000" stroke-width="1.0"/>
<line x1="437.72" y1="450.3" x2="437.72" y2="453.3" stroke="#000" stroke-width="1.0"/>
<line x1="452.34" y1="450.3" x2="452.34" y2="453.3" stroke="#000" stroke-width="1.0"/>
<text x="271.6" y="279.4" font-size="11.5" text-anchor="end" font-weight="bold" font-style="normal" fill="#000" stroke="#000" stroke-width="0.3" >100</text>
<text x="271.6" y="314.4" font-size="11.5" text-anchor="end" font-weight="bold" font-style="normal" fill="#000" stroke="#000" stroke-width="0.3" >80</text>
<text x="271.6" y="349.4" font-size="11.5" text-anchor="end" font-weight="bold" font-style="normal" fill="#000" stroke="#000" stroke-width="0.3" >60</text>
<text x="271.6" y="384.4" font-size="11.5" text-anchor="end" font-weight="bold" font-style="normal" fill="#000" stroke="#000" stroke-width="0.3" >40</text>
<text x="271.6" y="419.4" font-size="11.5" text-anchor="end" font-weight="bold" font-style="normal" fill="#000" stroke="#000" stroke-width="0.3" >20</text>
<text x="271.6" y="454.4" font-size="11.5" text-anchor="end" font-weight="bold" font-style="normal" fill="#000" stroke="#000" stroke-width="0.3" >0</text>
<text x="276.9" y="466.7" font-size="11.5" text-anchor="middle" font-weight="bold" font-style="normal" fill="#000" stroke="#000" stroke-width="0.3" >0</text>
<text x="350" y="466.7" font-size="11.5" text-anchor="middle" font-weight="bold" font-style="normal" fill="#000" stroke="#000" stroke-width="0.3" >500</text>
<text x="423.1" y="466.7" font-size="11.5" text-anchor="middle" font-weight="bold" font-style="normal" fill="#000" stroke="#000" stroke-width="0.3" >1000</text>
<text x="364.5" y="482.2" font-size="13.8" text-anchor="middle" font-weight="bold" font-style="normal" fill="#000" stroke="#000" stroke-width="0.3" >[<tspan stroke-width="0" font-family="Liberation Serif" font-weight="normal" font-size="15.5">α</tspan>C18:3] (nM)</text>
<text transform="translate(253.1,358.4) rotate(-90)" x="0" y="0" font-size="24.5" text-anchor="start" font-weight="bold" font-style="normal" fill="#000" stroke="#000" stroke-width="0.3" xml:space="preserve">F</text>
<path d="M238,366.4 L252.4,360.4 L252.4,372.4 Z" fill="none" stroke="#000" stroke-width="1.4"/>
<text x="232.6" y="277.1" font-size="29" text-anchor="middle" font-weight="bold" font-style="normal" fill="#000" stroke="#000" stroke-width="0.3" >d</text>
<text x="288" y="293.3" font-size="14" text-anchor="start" font-weight="bold" font-style="italic" fill="#ec2a22" stroke="#ec2a22" stroke-width="0.3" ><tspan stroke-width="0" font-family="Liberation Serif" font-weight="normal" font-style="normal" font-size="16.5">α</tspan>C18:3</text>
<text x="372" y="444" font-size="12" text-anchor="start" font-weight="bold" font-style="italic" fill="#000" stroke="#000" stroke-width="0.3" >K<tspan dy="3.5" font-size="9">I</tspan><tspan dy="-3.5"> = 52 ± 8 nM</tspan></text>
<path d="M276.90,450.30 L277.77,442.01 L278.64,434.68 L279.51,428.14 L280.38,422.28 L281.25,417.00 L282.13,412.21 L283.00,407.84 L283.87,403.86 L284.74,400.19 L285.61,396.82 L286.48,393.71 L287.35,390.82 L288.22,388.13 L289.09,385.63 L289.96,383.29 L290.83,381.11 L291.70,379.05 L292.58,377.12 L293.45,375.31 L294.32,373.59 L295.19,371.97 L296.06,370.44 L296.93,368.98 L297.80,367.60 L298.67,366.29 L299.54,365.04 L300.41,363.86 L301.28,362.72 L302.15,361.64 L303.03,360.60 L303.90,359.61 L304.77,358.66 L305.64,357.75 L306.51,356.88 L307.38,356.04 L308.25,355.24 L309.12,354.46 L309.99,353.72 L310.86,353.00 L311.73,352.31 L312.61,351.64 L313.48,350.99 L314.35,350.37 L315.22,349.77 L316.09,349.19 L316.96,348.63 L317.83,348.08 L318.70,347.56 L319.57,347.04 L320.44,346.55 L321.31,346.07 L322.18,345.60 L323.06,345.15 L323.93,344.71 L324.80,344.28 L325.67,343.87 L326.54,343.47 L327.41,343.07 L328.28,342.69 L329.15,342.32 L330.02,341.96 L330.89,341.61 L331.76,341.26 L332.63,340.93 L333.51,340.60 L334.38,340.28 L335.25,339.97 L336.12,339.67 L336.99,339.37 L337.86,339.08 L338.73,338.80 L339.60,338.52 L340.47,338.25 L341.34,337.99 L342.21,337.73 L343.08,337.48 L343.96,337.23 L344.83,336.99 L345.70,336.75 L346.57,336.52 L347.44,336.30 L348.31,336.07 L349.18,335.86 L350.05,335.64 L350.92,335.43 L351.79,335.23 L352.66,335.03 L353.54,334.83 L354.41,334.64 L355.28,334.45 L356.15,334.26 L357.02,334.08 L357.89,333.90 L358.76,333.73 L359.63,333.55 L360.50,333.38 L361.37,333.22 L362.24,333.05 L363.11,332.89 L363.99,332.73 L364.86,332.58 L365.73,332.43 L366.60,332.28 L367.47,332.13 L368.34,331.98 L369.21,331.84 L370.08,331.70 L370.95,331.56 L371.82,331.43 L372.69,331.29 L373.56,331.16 L374.44,331.03 L375.31,330.91 L376.18,330.78 L377.05,330.66 L377.92,330.53 L378.79,330.41 L379.66,330.30 L380.53,330.18 L381.40,330.07 L382.27,329.95 L383.14,329.84 L384.02,329.73 L384.89,329.62 L385.76,329.52 L386.63,329.41 L387.50,329.31 L388.37,329.21 L389.24,329.11 L390.11,329.01 L390.98,328.91 L391.85,328.81 L392.72,328.72 L393.59,328.62 L394.47,328.53 L395.34,328.44 L396.21,328.35 L397.08,328.26 L397.95,328.17 L398.82,328.08 L399.69,328.00 L400.56,327.91 L401.43,327.83 L402.30,327.75 L403.17,327.67 L404.04,327.59 L404.92,327.51 L405.79,327.43 L406.66,327.35 L407.53,327.27 L408.40,327.20 L409.27,327.12 L410.14,327.05 L411.01,326.98 L411.88,326.90 L412.75,326.83 L413.62,326.76 L414.49,326.69 L415.37,326.62 L416.24,326.56 L417.11,326.49 L417.98,326.42 L418.85,326.36 L419.72,326.29 L420.59,326.23 L421.46,326.16 L422.33,326.10 L423.20,326.04 L424.07,325.98 L424.95,325.91 L425.82,325.85 L426.69,325.79 L427.56,325.74 L428.43,325.68 L429.30,325.62 L430.17,325.56 L431.04,325.51 L431.91,325.45 L432.78,325.39 L433.65,325.34 L434.52,325.28 L435.40,325.23 L436.27,325.18 L437.14,325.13 L438.01,325.07 L438.88,325.02 L439.75,324.97 L440.62,324.92 L441.49,324.87 L442.36,324.82 L443.23,324.77 L444.10,324.72 L444.97,324.67 L445.85,324.63 L446.72,324.58 L447.59,324.53 L448.46,324.49 L449.33,324.44 L450.20,324.39" fill="none" stroke="#111" stroke-width="1.1"/>
<rect x="274.8" y="448.2" width="4" height="4" fill="#000"/>
<line x1="281.4" y1="415.7" x2="281.4" y2="423.5" stroke="#000" stroke-width="1.0"/>
<line x1="279.2" y1="415.7" x2="283.6" y2="415.7" stroke="#000" stroke-width="1.0"/>
<line x1="279.2" y1="423.5" x2="283.6" y2="423.5" stroke="#000" stroke-width="1.0"/>
<rect x="279.4" y="417.6" width="4" height="4" fill="#000"/>
<line x1="286.1" y1="401.4" x2="286.1" y2="408.4" stroke="#000" stroke-width="1.0"/>
<line x1="283.9" y1="401.4" x2="288.3" y2="401.4" stroke="#000" stroke-width="1.0"/>
<line x1="283.9" y1="408.4" x2="288.3" y2="408.4" stroke="#000" stroke-width="1.0"/>
<rect x="284.1" y="402.9" width="4" height="4" fill="#000"/>
<line x1="294.1" y1="367.4" x2="294.1" y2="381.9" stroke="#000" stroke-width="1.0"/>
<line x1="291.9" y1="367.4" x2="296.3" y2="367.4" stroke="#000" stroke-width="1.0"/>
<line x1="291.9" y1="381.9" x2="296.3" y2="381.9" stroke="#000" stroke-width="1.0"/>
<rect x="292.1" y="372.6" width="4" height="4" fill="#000"/>
<line x1="308.8" y1="347.1" x2="308.8" y2="354.7" stroke="#000" stroke-width="1.0"/>
<line x1="306.6" y1="347.1" x2="311" y2="347.1" stroke="#000" stroke-width="1.0"/>
<line x1="306.6" y1="354.7" x2="311" y2="354.7" stroke="#000" stroke-width="1.0"/>
<rect x="306.8" y="349.1" width="4" height="4" fill="#000"/>
<line x1="337.4" y1="333.7" x2="337.4" y2="339.8" stroke="#000" stroke-width="1.0"/>
<line x1="335.2" y1="333.7" x2="339.6" y2="333.7" stroke="#000" stroke-width="1.0"/>
<line x1="335.2" y1="339.8" x2="339.6" y2="339.8" stroke="#000" stroke-width="1.0"/>
<rect x="335.4" y="334.7" width="4" height="4" fill="#000"/>
<rect x="392.2" y="328.2" width="4" height="4" fill="#000"/>
<rect x="448.2" y="325.4" width="4" height="4" fill="#000"/>
<line x1="509.25" y1="274.6" x2="509.25" y2="450.9" stroke="#000" stroke-width="1.2"/>
<line x1="504.55" y1="450.3" x2="509.25" y2="450.3" stroke="#000" stroke-width="1.0"/>
<line x1="506.65" y1="432.8" x2="509.25" y2="432.8" stroke="#000" stroke-width="1.0"/>
<line x1="506.65" y1="415.3" x2="509.25" y2="415.3" stroke="#000" stroke-width="1.0"/>
<line x1="506.65" y1="397.8" x2="509.25" y2="397.8" stroke="#000" stroke-width="1.0"/>
<line x1="506.65" y1="380.3" x2="509.25" y2="380.3" stroke="#000" stroke-width="1.0"/>
<line x1="504.55" y1="362.8" x2="509.25" y2="362.8" stroke="#000" stroke-width="1.0"/>
<line x1="506.65" y1="345.3" x2="509.25" y2="345.3" stroke="#000" stroke-width="1.0"/>
<line x1="506.65" y1="327.8" x2="509.25" y2="327.8" stroke="#000" stroke-width="1.0"/>
<line x1="506.65" y1="310.3" x2="509.25" y2="310.3" stroke="#000" stroke-width="1.0"/>
<line x1="506.65" y1="292.8" x2="509.25" y2="292.8" stroke="#000" stroke-width="1.0"/>
<line x1="504.55" y1="275.3" x2="509.25" y2="275.3" stroke="#000" stroke-width="1.0"/>
<line x1="509.25" y1="450.3" x2="685" y2="450.3" stroke="#000" stroke-width="1.2"/>
<line x1="509.25" y1="450.3" x2="509.25" y2="454.8" stroke="#000" stroke-width="1.0"/>
<line x1="523.83" y1="450.3" x2="523.83" y2="453.3" stroke="#000" stroke-width="1.0"/>
<line x1="538.41" y1="450.3" x2="538.41" y2="453.3" stroke="#000" stroke-width="1.0"/>
<line x1="552.99" y1="450.3" x2="552.99" y2="453.3" stroke="#000" stroke-width="1.0"/>
<line x1="567.57" y1="450.3" x2="567.57" y2="453.3" stroke="#000" stroke-width="1.0"/>
<line x1="582.15" y1="450.3" x2="582.15" y2="454.8" stroke="#000" stroke-width="1.0"/>
<line x1="596.73" y1="450.3" x2="596.73" y2="453.3" stroke="#000" stroke-width="1.0"/>
<line x1="611.31" y1="450.3" x2="611.31" y2="453.3" stroke="#000" stroke-width="1.0"/>
<line x1="625.89" y1="450.3" x2="625.89" y2="453.3" stroke="#000" stroke-width="1.0"/>
<line x1="640.47" y1="450.3" x2="640.47" y2="453.3" stroke="#000" stroke-width="1.0"/>
<line x1="655.05" y1="450.3" x2="655.05" y2="454.8" stroke="#000" stroke-width="1.0"/>
<line x1="669.63" y1="450.3" x2="669.63" y2="453.3" stroke="#000" stroke-width="1.0"/>
<line x1="684.21" y1="450.3" x2="684.21" y2="453.3" stroke="#000" stroke-width="1.0"/>
<text x="503.2" y="279.4" font-size="11.5" text-anchor="end" font-weight="bold" font-style="normal" fill="#000" stroke="#000" stroke-width="0.3" >100</text>
<text x="503.2" y="366.9" font-size="11.5" text-anchor="end" font-weight="bold" font-style="normal" fill="#000" stroke="#000" stroke-width="0.3" >50</text>
<text x="503.2" y="454.4" font-size="11.5" text-anchor="end" font-weight="bold" font-style="normal" fill="#000" stroke="#000" stroke-width="0.3" >0</text>
<text x="509.25" y="467" font-size="11.5" text-anchor="middle" font-weight="bold" font-style="normal" fill="#000" stroke="#000" stroke-width="0.3" >0</text>
<text x="582.15" y="467" font-size="11.5" text-anchor="middle" font-weight="bold" font-style="normal" fill="#000" stroke="#000" stroke-width="0.3" >500</text>
<text x="655.05" y="467" font-size="11.5" text-anchor="middle" font-weight="bold" font-style="normal" fill="#000" stroke="#000" stroke-width="0.3" >1000</text>
<text x="596.5" y="482.2" font-size="13.8" text-anchor="middle" font-weight="bold" font-style="normal" fill="#000" stroke="#000" stroke-width="0.3" >[<tspan stroke-width="0" font-family="Liberation Serif" font-weight="normal" font-size="15.5">α</tspan>C18:3 ] (nM)</text>
<text transform="translate(483.7,358.4) rotate(-90)" x="0" y="0" font-size="24.5" text-anchor="start" font-weight="bold" font-style="normal" fill="#000" stroke="#000" stroke-width="0.3" xml:space="preserve">F</text>
<path d="M468.6,366.4 L483,360.4 L483,372.4 Z" fill="none" stroke="#000" stroke-width="1.4"/>
<text x="460.5" y="277.5" font-size="29" text-anchor="middle" font-weight="bold" font-style="normal" fill="#000" stroke="#000" stroke-width="0.3" >e</text>
<text x="519.8" y="291.8" font-size="14" text-anchor="start" font-weight="bold" font-style="italic" fill="#ec2a22" stroke="#ec2a22" stroke-width="0.3" ><tspan stroke-width="0" font-family="Liberation Serif" font-weight="normal" font-style="normal" font-size="16.5">α</tspan>C18:3</text>
<text x="598.3" y="442.8" font-size="12" text-anchor="start" font-weight="bold" font-style="italic" fill="#000" stroke="#000" stroke-width="0.3" >K<tspan dy="3.5" font-size="9">I</tspan><tspan dy="-3.5"> = 42 ± 14 nM</tspan></text>
<path d="M509.25,450.30 L510.12,440.86 L510.99,432.68 L511.86,425.53 L512.74,419.22 L513.61,413.61 L514.48,408.59 L515.35,404.07 L516.22,399.99 L517.09,396.27 L517.97,392.88 L518.84,389.77 L519.71,386.92 L520.58,384.28 L521.45,381.83 L522.32,379.56 L523.20,377.45 L524.07,375.48 L524.94,373.64 L525.81,371.91 L526.68,370.28 L527.55,368.76 L528.43,367.31 L529.30,365.95 L530.17,364.67 L531.04,363.45 L531.91,362.29 L532.78,361.19 L533.66,360.15 L534.53,359.15 L535.40,358.20 L536.27,357.29 L537.14,356.43 L538.01,355.60 L538.88,354.81 L539.76,354.05 L540.63,353.32 L541.50,352.62 L542.37,351.95 L543.24,351.30 L544.11,350.68 L544.99,350.08 L545.86,349.50 L546.73,348.95 L547.60,348.41 L548.47,347.89 L549.34,347.39 L550.22,346.91 L551.09,346.44 L551.96,345.98 L552.83,345.55 L553.70,345.12 L554.57,344.71 L555.45,344.31 L556.32,343.92 L557.19,343.55 L558.06,343.18 L558.93,342.83 L559.80,342.48 L560.67,342.15 L561.55,341.82 L562.42,341.50 L563.29,341.19 L564.16,340.89 L565.03,340.60 L565.90,340.31 L566.78,340.04 L567.65,339.77 L568.52,339.50 L569.39,339.24 L570.26,338.99 L571.13,338.75 L572.01,338.51 L572.88,338.27 L573.75,338.04 L574.62,337.82 L575.49,337.60 L576.36,337.39 L577.24,337.18 L578.11,336.97 L578.98,336.77 L579.85,336.58 L580.72,336.38 L581.59,336.20 L582.47,336.01 L583.34,335.83 L584.21,335.65 L585.08,335.48 L585.95,335.31 L586.82,335.15 L587.69,334.98 L588.57,334.82 L589.44,334.67 L590.31,334.51 L591.18,334.36 L592.05,334.21 L592.92,334.07 L593.80,333.92 L594.67,333.78 L595.54,333.65 L596.41,333.51 L597.28,333.38 L598.15,333.25 L599.03,333.12 L599.90,332.99 L600.77,332.87 L601.64,332.75 L602.51,332.63 L603.38,332.51 L604.26,332.39 L605.13,332.28 L606.00,332.17 L606.87,332.05 L607.74,331.95 L608.61,331.84 L609.48,331.73 L610.36,331.63 L611.23,331.53 L612.10,331.43 L612.97,331.33 L613.84,331.23 L614.71,331.13 L615.59,331.04 L616.46,330.95 L617.33,330.85 L618.20,330.76 L619.07,330.67 L619.94,330.59 L620.82,330.50 L621.69,330.41 L622.56,330.33 L623.43,330.25 L624.30,330.16 L625.17,330.08 L626.05,330.00 L626.92,329.92 L627.79,329.85 L628.66,329.77 L629.53,329.69 L630.40,329.62 L631.28,329.55 L632.15,329.47 L633.02,329.40 L633.89,329.33 L634.76,329.26 L635.63,329.19 L636.50,329.12 L637.38,329.06 L638.25,328.99 L639.12,328.92 L639.99,328.86 L640.86,328.80 L641.73,328.73 L642.61,328.67 L643.48,328.61 L644.35,328.55 L645.22,328.49 L646.09,328.43 L646.96,328.37 L647.84,328.31 L648.71,328.25 L649.58,328.19 L650.45,328.14 L651.32,328.08 L652.19,328.03 L653.07,327.97 L653.94,327.92 L654.81,327.87 L655.68,327.81 L656.55,327.76 L657.42,327.71 L658.29,327.66 L659.17,327.61 L660.04,327.56 L660.91,327.51 L661.78,327.46 L662.65,327.41 L663.52,327.37 L664.40,327.32 L665.27,327.27 L666.14,327.23 L667.01,327.18 L667.88,327.13 L668.75,327.09 L669.63,327.05 L670.50,327.00 L671.37,326.96 L672.24,326.91 L673.11,326.87 L673.98,326.83 L674.86,326.79 L675.73,326.75 L676.60,326.71 L677.47,326.67 L678.34,326.63 L679.21,326.59 L680.09,326.55 L680.96,326.51 L681.83,326.47 L682.70,326.43" fill="none" stroke="#111" stroke-width="1.1"/>
<rect x="507" y="447.7" width="4.2" height="4.2" fill="#000"/>
<line x1="513.5" y1="406.6" x2="513.5" y2="440.1" stroke="#000" stroke-width="1.2"/>
<line x1="511" y1="406.6" x2="516" y2="406.6" stroke="#000" stroke-width="1.2"/>
<line x1="511" y1="440.1" x2="516" y2="440.1" stroke="#000" stroke-width="1.2"/>
<rect x="511.4" y="421.3" width="4.2" height="4.2" fill="#000"/>
<line x1="517.9" y1="379.6" x2="517.9" y2="415.6" stroke="#000" stroke-width="1.2"/>
<line x1="515.4" y1="379.6" x2="520.4" y2="379.6" stroke="#000" stroke-width="1.2"/>
<line x1="515.4" y1="415.6" x2="520.4" y2="415.6" stroke="#000" stroke-width="1.2"/>
<rect x="515.8" y="395.5" width="4.2" height="4.2" fill="#000"/>
<line x1="526.6" y1="359.6" x2="526.6" y2="370.6" stroke="#000" stroke-width="1.2"/>
<line x1="524.1" y1="359.6" x2="529.1" y2="359.6" stroke="#000" stroke-width="1.2"/>
<line x1="524.1" y1="370.6" x2="529.1" y2="370.6" stroke="#000" stroke-width="1.2"/>
<rect x="524.5" y="363.1" width="4.2" height="4.2" fill="#000"/>
<line x1="541" y1="330.5" x2="541" y2="365.2" stroke="#000" stroke-width="1.2"/>
<line x1="538.5" y1="330.5" x2="543.5" y2="330.5" stroke="#000" stroke-width="1.2"/>
<line x1="538.5" y1="365.2" x2="543.5" y2="365.2" stroke="#000" stroke-width="1.2"/>
<rect x="538.9" y="345.9" width="4.2" height="4.2" fill="#000"/>
<line x1="569.7" y1="319" x2="569.7" y2="347.5" stroke="#000" stroke-width="1.2"/>
<line x1="567.2" y1="319" x2="572.2" y2="319" stroke="#000" stroke-width="1.2"/>
<line x1="567.2" y1="347.5" x2="572.2" y2="347.5" stroke="#000" stroke-width="1.2"/>
<rect x="567.6" y="331.2" width="4.2" height="4.2" fill="#000"/>
<line x1="626.6" y1="317.4" x2="626.6" y2="345.2" stroke="#000" stroke-width="1.2"/>
<line x1="624.1" y1="317.4" x2="629.1" y2="317.4" stroke="#000" stroke-width="1.2"/>
<line x1="624.1" y1="345.2" x2="629.1" y2="345.2" stroke="#000" stroke-width="1.2"/>
<rect x="624.5" y="329.6" width="4.2" height="4.2" fill="#000"/>
<rect x="679.9" y="332.5" width="4.2" height="4.2" fill="#000"/>
</svg></body></html>
